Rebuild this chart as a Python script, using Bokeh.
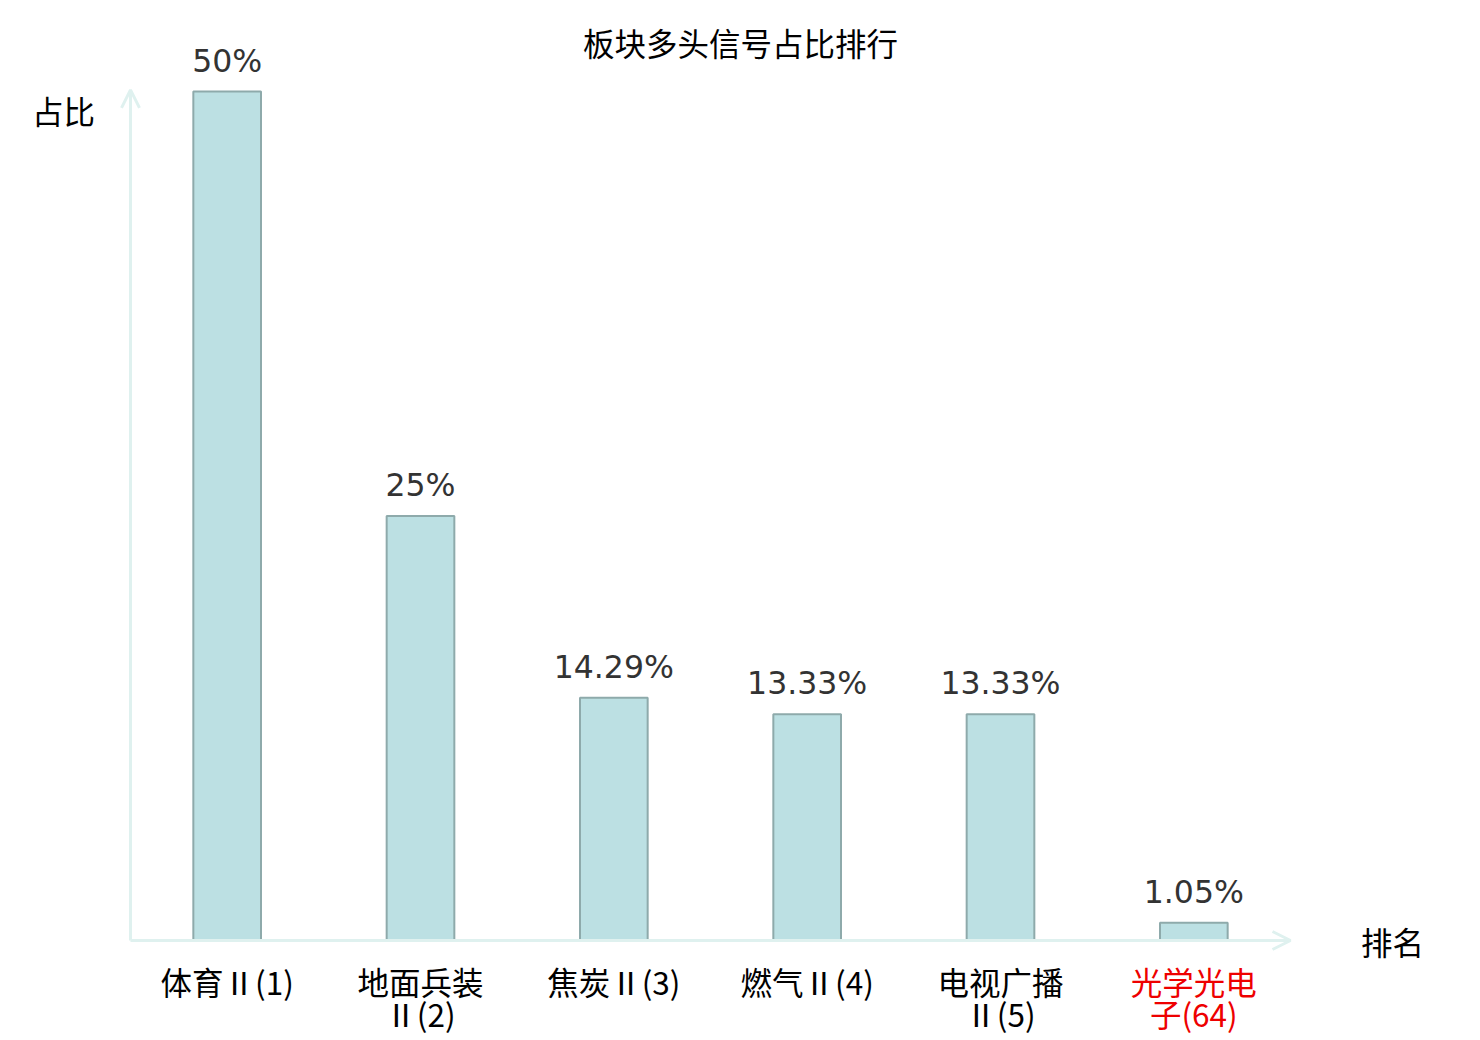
from bokeh.plotting import figure
from bokeh.models import ColumnDataSource, Arrow, OpenHead, Label, Range1d
from bokeh.core.properties import value
from bokeh.embed import file_html
from bokeh.resources import INLINE

categories = ["体育Ⅱ(1)", "地面兵装\nⅡ(2)", "焦炭Ⅱ(3)", "燃气Ⅱ(4)", "电视广播\nⅡ(5)", "光学光电\n子(64)"]
values = [50, 25, 14.29, 13.33, 13.33, 1.05]
value_labels = ["50%", "25%", "14.29%", "13.33%", "13.33%", "1.05%"]
label_colors = ["#000000", "#000000", "#000000", "#000000", "#000000", "#ee0000"]

W, H = 1480, 1040
# plotting region: x 0..6 -> px 130..1290 ; y 0..50 -> px 940..91
PX_X = 1160 / 6.0
PX_Y = 849 / 50.0
x0, y0 = 130, 940
p = figure(width=W, height=H, output_backend="svg", toolbar_location=None,
           x_range=Range1d(-x0 / PX_X, (W - x0) / PX_X),
           y_range=Range1d((y0 - H) / PX_Y, y0 / PX_Y),
           min_border=0, min_border_left=0, min_border_right=0,
           min_border_top=0, min_border_bottom=0)
p.xaxis.visible = False
p.yaxis.visible = False
p.xgrid.visible = False
p.ygrid.visible = False
p.outline_line_color = None
p.background_fill_color = "white"

xs = [i + 0.5 for i in range(len(categories))]
line1 = [c.split("\n")[0] for c in categories]
line2 = [c.split("\n")[1] if "\n" in c else "" for c in categories]
src = ColumnDataSource(dict(x=xs, top=values, lab=value_labels, l1=line1, l2=line2, col=label_colors))

font = value("Noto Sans CJK SC")

# axes with arrows
axis_color = "#dff1ef"
p.add_layout(Arrow(end=OpenHead(size=18, line_color=axis_color, line_width=3),
                   x_start=0, y_start=0, x_end=len(categories), y_end=0,
                   line_color=axis_color, line_width=3))
p.add_layout(Arrow(end=OpenHead(size=18, line_color=axis_color, line_width=3),
                   x_start=0, y_start=0, x_end=0, y_end=50.1,
                   line_color=axis_color, line_width=3))

p.vbar(x="x", top="top", bottom=0, width=0.35, source=src,
       fill_color="#bce0e3", line_color="#8eaaab", line_width=2)

p.text(x="x", y="top", text="lab", source=src, text_align="center", text_baseline="alphabetic",
       y_offset=-31, text_font=value("DejaVu Sans"), text_font_size="31.5px", text_color="#333333")

p.text(x="x", y=0, text="l1", source=src, text_align="center", text_baseline="middle",
       y_offset=40, text_font=font, text_font_size="31.5px", text_color="col")
p.text(x="x", y=0, text="l2", source=src, text_align="center", text_baseline="middle",
       y_offset=72, text_font=font, text_font_size="31.5px", text_color="col")

# title & axis names
p.add_layout(Label(x=(740 - x0) / PX_X, y=(y0 - 41) / PX_Y, text="板块多头信号占比排行", text_align="center",
                   text_baseline="middle", text_font="Noto Sans CJK SC", text_font_size="31.5px",
                   text_color="#000000"))
p.add_layout(Label(x=(63 - x0) / PX_X, y=(y0 - 109) / PX_Y, text="占比", text_align="center", text_baseline="middle",
                   text_font="Noto Sans CJK SC", text_font_size="31.5px", text_color="#000000"))
p.add_layout(Label(x=(1392 - x0) / PX_X, y=(y0 - 940) / PX_Y, text="排名", text_align="center", text_baseline="middle",
                   text_font="Noto Sans CJK SC", text_font_size="31.5px", text_color="#000000"))

open("out.html", "w").write(file_html(p, INLINE))
